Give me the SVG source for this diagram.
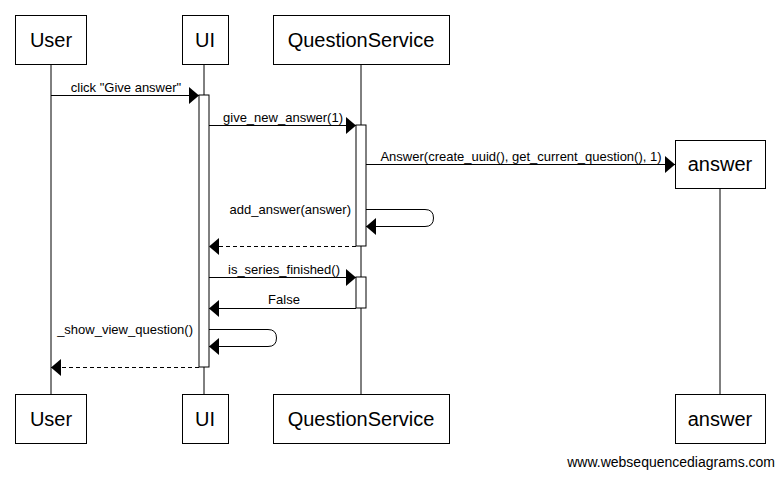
<svg xmlns="http://www.w3.org/2000/svg" width="783" height="477" viewBox="0 0 783 477">
<defs>
<marker id="ah" markerUnits="userSpaceOnUse" markerWidth="12" markerHeight="18" refX="10" refY="8.5" orient="auto">
<path d="M0,0 L10,8.5 L0,17 Z" fill="#000"/>
</marker>
</defs>
<style>
.box{fill:#fff;stroke:#000;stroke-width:1}
.act{fill:#fff;stroke:#000;stroke-width:1}
.life{stroke:#000;stroke-width:1}
.msg{stroke:#000;stroke-width:1;fill:none;marker-end:url(#ah)}
.ret{stroke:#000;stroke-width:1;fill:none;stroke-dasharray:4,3;marker-end:url(#ah)}
.an{font-family:"Liberation Sans",Arial,sans-serif;font-size:20px;fill:#000;text-anchor:middle}
.ml{font-family:"Liberation Sans",Arial,sans-serif;font-size:13px;fill:#000}
</style>
<rect width="783" height="477" fill="#fff"/>
<g id="lifelines">
<line class="life" x1="51" y1="64" x2="51" y2="394"/>
<line class="life" x1="204" y1="64" x2="204" y2="394"/>
<line class="life" x1="361" y1="64" x2="361" y2="394"/>
<line class="life" x1="720" y1="188" x2="720" y2="394"/>
</g>
<g id="activations">
<rect class="act" x="199" y="95" width="10" height="272"/>
<rect class="act" x="356" y="125" width="10" height="121"/>
<rect class="act" x="356" y="277" width="10" height="31"/>
</g>
<g id="User">
<rect class="box" x="15.5" y="15.5" width="71" height="49"/>
<text class="an" x="51" y="47">User</text>
<rect class="box" x="15.5" y="394.5" width="71" height="49"/>
<text class="an" x="51" y="426">User</text>
</g>
<g id="UI">
<rect class="box" x="182.5" y="15.5" width="46" height="49"/>
<text class="an" x="205" y="47">UI</text>
<rect class="box" x="182.5" y="394.5" width="46" height="49"/>
<text class="an" x="205" y="426">UI</text>
</g>
<g id="QuestionService">
<rect class="box" x="273.5" y="15.5" width="176" height="49"/>
<text class="an" x="361" y="47">QuestionService</text>
<rect class="box" x="273.5" y="394.5" width="176" height="49"/>
<text class="an" x="361" y="426">QuestionService</text>
</g>
<g id="answer">
<rect class="box" x="675.5" y="140.5" width="90" height="48"/>
<text class="an" x="720" y="171">answer</text>
<rect class="box" x="675.5" y="394.5" width="90" height="49"/>
<text class="an" x="720" y="426">answer</text>
</g>
<g id="connectors">
<line class="msg" x1="51" y1="95.5" x2="199" y2="95.5"/>
<text class="ml" x="126" y="92" text-anchor="middle">click "Give answer"</text>
<line class="msg" x1="209" y1="125.5" x2="356" y2="125.5"/>
<text class="ml" x="283" y="122" text-anchor="middle">give_new_answer(1)</text>
<line class="msg" x1="366" y1="164.5" x2="675" y2="164.5"/>
<text class="ml" x="521" y="161" text-anchor="middle">Answer(create_uuid(), get_current_question(), 1)</text>
<path class="msg" d="M366,209.5 H425 Q433.5,209.5 433.5,218 Q433.5,226.5 425,226.5 H366"/>
<text class="ml" x="351" y="214" text-anchor="end">add_answer(answer)</text>
<line class="ret" x1="356" y1="246.5" x2="209" y2="246.5"/>
<line class="msg" x1="209" y1="277.5" x2="356" y2="277.5"/>
<text class="ml" x="284" y="274" text-anchor="middle">is_series_finished()</text>
<line class="msg" x1="356" y1="308.5" x2="209" y2="308.5"/>
<text class="ml" x="284" y="304" text-anchor="middle">False</text>
<path class="msg" d="M209,329.5 H268 Q276.5,329.5 276.5,338 Q276.5,346.5 268,346.5 H209"/>
<text class="ml" x="193" y="334" text-anchor="end">_show_view_question()</text>
<line class="ret" x1="199" y1="367.5" x2="51" y2="367.5"/>
</g>
<text class="ml" x="775" y="467" text-anchor="end" style="font-size:14px">www.websequencediagrams.com</text>
</svg>
